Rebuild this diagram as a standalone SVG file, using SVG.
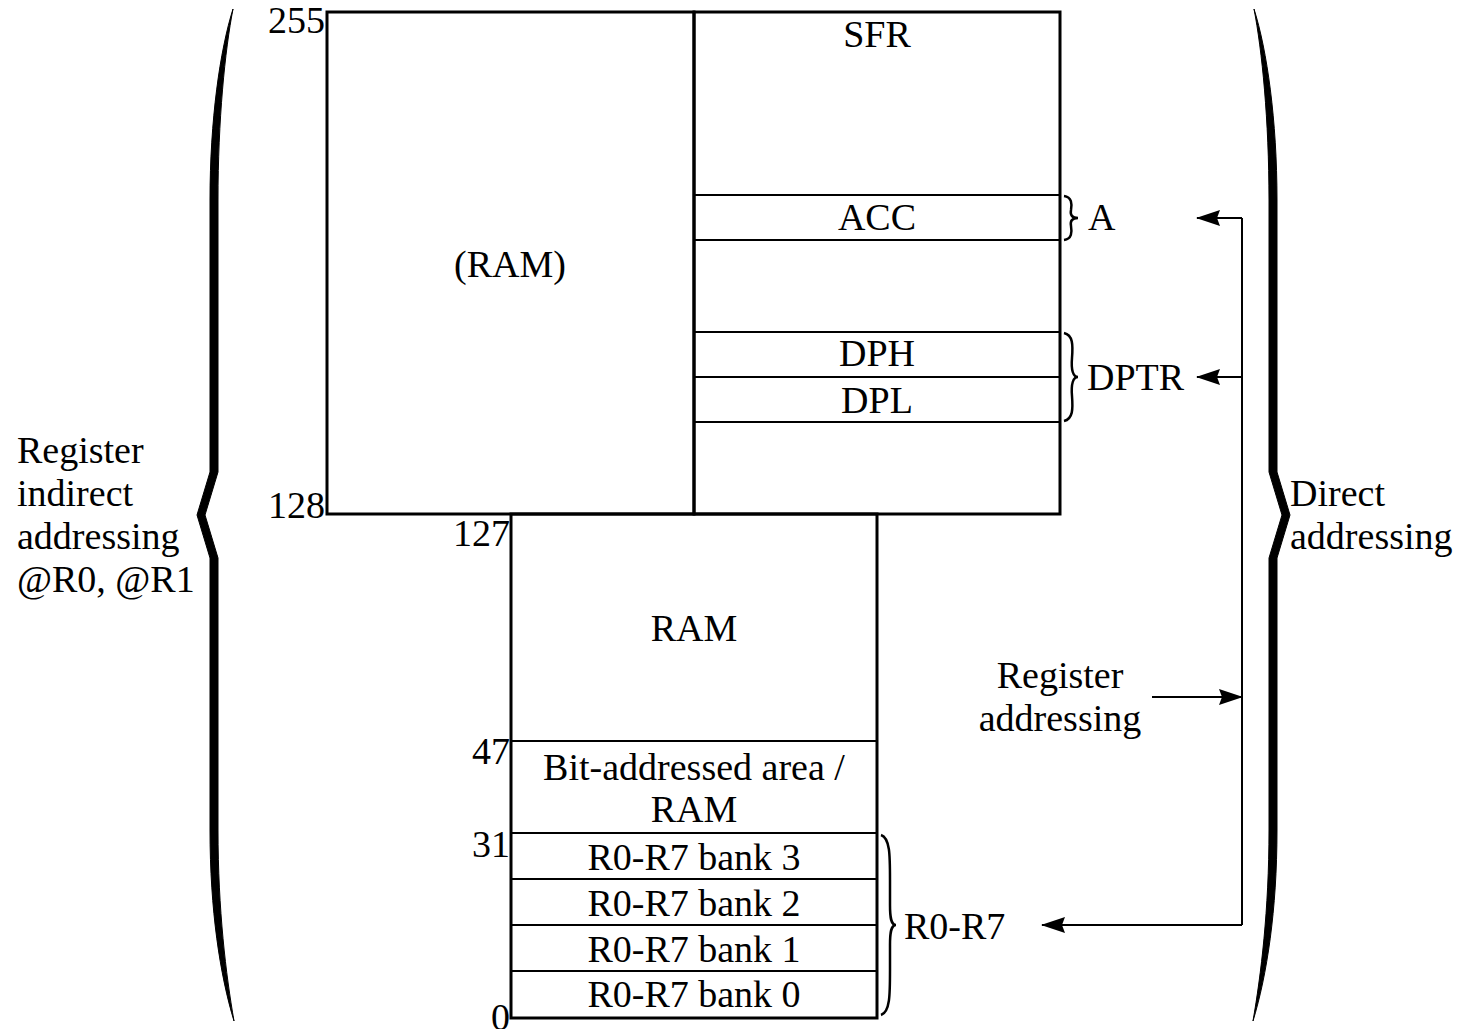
<svg xmlns="http://www.w3.org/2000/svg" width="1460" height="1029" viewBox="0 0 1460 1029">
<style>
text{font-family:"Liberation Serif","Times New Roman",serif;font-size:38px;fill:#000}
.c{text-anchor:middle}
.e{text-anchor:end}
.box{fill:none;stroke:#000;stroke-width:3}
.ln{stroke:#000;stroke-width:2}
.br{fill:none;stroke:#000;stroke-width:2.5}
.big{fill:#000;stroke:#000;stroke-width:1}
.con{fill:none;stroke:#000;stroke-width:2}
</style>
<defs>
<marker id="ah" viewBox="0 0 24 16" refX="23" refY="8" markerWidth="24" markerHeight="16" markerUnits="userSpaceOnUse" orient="auto">
<path d="M0,0 L24,8 L0,16 L3,8 Z" fill="#000"/>
</marker>
</defs>
<rect width="1460" height="1029" fill="#fff"/>

<g id="upper-ram">
<rect class="box" x="327" y="12" width="367" height="502"/>
<text class="c" x="510" y="277">(RAM)</text>
<text class="e" x="325" y="33">255</text>
<text class="e" x="325" y="518">128</text>
</g>

<g id="sfr">
<rect class="box" x="694" y="12" width="366" height="502"/>
<text class="c" x="877" y="47">SFR</text>
<line class="ln" x1="694" y1="195" x2="1060" y2="195"/>
<line class="ln" x1="694" y1="240" x2="1060" y2="240"/>
<text class="c" x="877" y="230">ACC</text>
<line class="ln" x1="694" y1="332" x2="1060" y2="332"/>
<line class="ln" x1="694" y1="377" x2="1060" y2="377"/>
<line class="ln" x1="694" y1="422" x2="1060" y2="422"/>
<text class="c" x="877" y="366">DPH</text>
<text class="c" x="877" y="413">DPL</text>
</g>

<g id="brace-a">
<path class="br" d="M1064,196 C1072,197 1072,204 1071,210 C1070,215 1072,218 1078,218 C1072,218 1070,221 1071,226 C1072,232 1072,239 1064,240"/>
<text x="1088" y="230">A</text>
</g>

<g id="brace-dptr">
<path class="br" d="M1064,333 C1073,335 1073,345 1072,358 C1071,370 1073,377 1078,377 C1073,377 1071,384 1072,396 C1073,409 1073,419 1064,421"/>
<text x="1087" y="390">DPTR</text>
</g>

<g id="lower-ram">
<rect class="box" x="511" y="514" width="366" height="504"/>
<text class="c" x="694" y="641">RAM</text>
<text class="e" x="510" y="546">127</text>
<line class="ln" x1="511" y1="741" x2="877" y2="741"/>
<text class="e" x="510" y="764">47</text>
<text class="c" x="694" y="780">Bit-addressed area /</text>
<text class="c" x="694" y="822">RAM</text>
<line class="ln" x1="511" y1="833" x2="877" y2="833"/>
<text class="e" x="510" y="857">31</text>
<line class="ln" x1="511" y1="879" x2="877" y2="879"/>
<line class="ln" x1="511" y1="925" x2="877" y2="925"/>
<line class="ln" x1="511" y1="971" x2="877" y2="971"/>
<text class="c" x="694" y="870">R0-R7 bank 3</text>
<text class="c" x="694" y="916">R0-R7 bank 2</text>
<text class="c" x="694" y="962">R0-R7 bank 1</text>
<text class="c" x="694" y="1007">R0-R7 bank 0</text>
<text class="e" x="510" y="1030">0</text>
</g>

<g id="brace-r0r7">
<path class="br" d="M881,835 C890,838 890,855 890,880 L890,905 C890,918 891,925 896,925 C891,925 890,932 890,945 L890,970 C890,995 890,1012 881,1015"/>
<text x="904" y="939">R0-R7</text>
</g>

<g id="left-brace">
<path class="big" d="M233,9 C220,50 210,120 210,200 L210,472 L197,515 L210,558 L210,830 C210,910 220,975 234,1021 C226,975 218,910 218,830 L218,558 L205,515 L218,472 L218,200 C218,120 225,50 233,9 Z"/>
<text x="17" y="463">Register</text>
<text x="17" y="506">indirect</text>
<text x="17" y="549">addressing</text>
<text x="17" y="592">@R0, @R1</text>
</g>

<g id="right-brace">
<path class="big" transform="translate(1487,0) scale(-1,1)" d="M233,9 C220,50 210,120 210,200 L210,472 L197,515 L210,558 L210,830 C210,910 220,975 234,1021 C226,975 218,910 218,830 L218,558 L205,515 L218,472 L218,200 C218,120 225,50 233,9 Z"/>
<text x="1290" y="506">Direct</text>
<text x="1290" y="549">addressing</text>
</g>

<g id="register-addressing">
<text class="c" x="1060" y="688">Register</text>
<text class="c" x="1060" y="731">addressing</text>
</g>

<g id="connectors">
<polyline class="con" points="1242,218 1242,925"/>
<line class="con" x1="1242" y1="218" x2="1197" y2="218" marker-end="url(#ah)"/>
<line class="con" x1="1242" y1="377" x2="1197" y2="377" marker-end="url(#ah)"/>
<line class="con" x1="1242" y1="925" x2="1042" y2="925" marker-end="url(#ah)"/>
<line class="con" x1="1152" y1="697" x2="1242" y2="697" marker-end="url(#ah)"/>
</g>
</svg>
